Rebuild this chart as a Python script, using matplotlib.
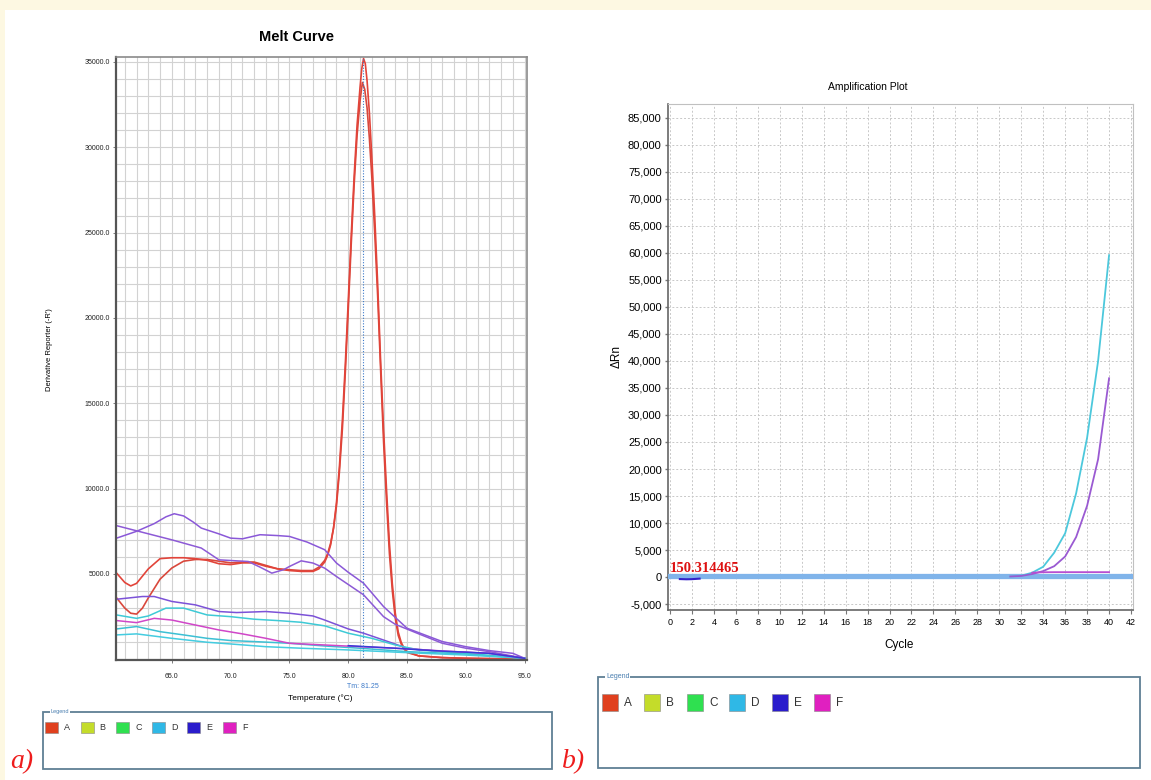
import matplotlib
matplotlib.use("Agg")
import matplotlib.pyplot as plt
import matplotlib.patches as patches
from matplotlib.ticker import FuncFormatter, MultipleLocator

plt.rcParams['font.family'] = ['Liberation Sans', 'DejaVu Sans']

# ---- melt curve data (temperature in degC, derivative reporter -R') ----
red1_t = [60.3, 61.0, 61.5, 62.0, 63.0, 64.0, 65.0, 66.0, 67.0, 68.0, 69.0, 70.0, 71.0, 72.0,
          73.0, 74.0, 75.0, 76.0, 77.0, 77.5, 78.0, 78.25, 78.5, 78.75, 79.0, 79.25, 79.5, 79.75,
          80.0, 80.25, 80.5, 80.75, 81.0, 81.15, 81.3, 81.45, 81.6, 81.8, 82.0, 82.25, 82.5,
          82.75, 83.0, 83.25, 83.5, 83.75, 84.0, 84.25, 84.5, 84.75, 85.0, 86.0, 88.0, 90.0,
          92.0, 95.0]
red1_v = [5050, 4500, 4300, 4450, 5300, 5900, 5950, 5950, 5900, 5800, 5600, 5550, 5650, 5650,
          5450, 5300, 5200, 5150, 5150, 5300, 5700, 6100, 6700, 7700, 9200, 11300, 14000, 17300,
          21000, 24800, 28300, 31300, 33500, 34600, 35200, 34900, 33900, 32000, 29500, 26000, 22000,
          17500, 13500, 10000, 6800, 4400, 2700, 1600, 1000, 650, 450, 200, 100, 60,
          40, 20]
red2_t = [60.3, 61.0, 61.5, 62.0, 62.5, 63.0, 64.0, 65.0, 66.0, 67.0, 68.0, 69.0, 70.0, 71.0,
          72.0, 73.0, 74.0, 75.0, 76.0, 77.0, 77.5, 78.0, 78.25, 78.5, 78.75, 79.0, 79.25, 79.5,
          79.75, 80.0, 80.25, 80.5, 80.75, 81.0, 81.2, 81.4, 81.6, 81.8, 82.0, 82.25, 82.5,
          82.75, 83.0, 83.25, 83.5, 83.75, 84.0, 84.25, 84.5, 84.75, 85.0, 86.0, 88.0, 90.0,
          92.0, 95.0]
red2_v = [3600, 3000, 2700, 2650, 3000, 3600, 4700, 5350, 5750, 5850, 5850, 5750, 5650, 5700,
          5700, 5500, 5300, 5250, 5200, 5200, 5400, 5800, 6200, 6800, 7700, 9000, 11000, 13500,
          16800, 20500, 24300, 27800, 30700, 32700, 33800, 33400, 32300, 30500, 28300, 25000, 21300,
          17000, 12800, 9300, 6200, 4000, 2400, 1400, 900, 600, 400, 200, 100, 60,
          40, 20]

purple1_t = [60.3, 62.0, 63.5, 64.5, 65.2, 66.0, 66.8, 67.5, 69.0, 70.0, 71.0, 72.5, 74.0, 75.0,
             76.5, 78.0, 79.0, 80.0, 81.3, 83.0, 85.0, 86.5, 88.0, 90.0, 92.0, 94.0, 95.0]
purple1_v = [7100, 7500, 7950, 8350, 8530, 8400, 8050, 7690, 7350, 7100, 7060, 7300, 7250, 7200,
             6870, 6420, 5640, 5100, 4460, 3090, 1820, 1430, 1040, 740, 510, 350, 60]
purple2_t = [60.3, 62.0, 65.0, 67.5, 69.0, 71.5, 72.5, 73.5, 74.5, 75.0, 76.0, 77.0, 78.0, 79.0,
             81.3, 83.0, 84.0, 86.0, 88.0, 90.0, 92.0, 95.0]
purple2_v = [7830, 7530, 7000, 6520, 5830, 5730, 5400, 5050, 5250, 5440, 5770, 5640, 5340, 4850,
             3780, 2500, 2050, 1490, 940, 650, 450, 60]
purple3_t = [60.3, 62.5, 63.5, 65.0, 67.0, 69.0, 70.5, 73.0, 75.0, 77.0, 78.0, 80.0, 81.3, 83.0,
             85.0, 88.0, 92.0, 95.0]
purple3_v = [3520, 3680, 3680, 3390, 3190, 2800, 2740, 2800, 2700, 2540, 2300, 1780, 1530, 1130,
             650, 450, 350, 60]

cyan1_t = [60.3, 62.0, 63.0, 64.5, 66.0, 68.0, 70.0, 72.0, 74.0, 76.0, 78.0, 80.0, 82.0, 84.0,
           86.0, 90.0, 95.0]
cyan1_v = [2600, 2400, 2540, 3000, 3000, 2600, 2500, 2350, 2270, 2170, 1960, 1530, 1230, 840,
           550, 350, 60]
cyan2_t = [60.3, 62.0, 64.0, 66.0, 68.0, 70.0, 72.0, 75.0, 78.0, 81.0, 85.0, 90.0, 95.0]
cyan2_v = [1780, 1920, 1620, 1430, 1230, 1100, 1040, 940, 780, 650, 450, 310, 60]
cyan3_t = [60.3, 62.0, 65.0, 68.0, 70.0, 73.0, 76.0, 80.0, 85.0, 90.0, 95.0]
cyan3_v = [1430, 1490, 1230, 1000, 900, 740, 650, 550, 390, 250, 60]

magenta_t = [60.3, 62.0, 63.5, 65.0, 67.0, 69.0, 71.0, 73.0, 75.0, 78.0, 81.0, 84.0, 88.0, 92.0, 95.0]
magenta_v = [2270, 2150, 2400, 2300, 2010, 1720, 1490, 1230, 940, 840, 740, 650, 490, 350, 60]

blue_t = [80.0, 84.0, 86.0, 88.0, 90.0, 92.0, 95.0]
blue_v = [800, 650, 560, 480, 420, 350, 60]

tm_value = 81.25

# ---- amplification data (cycle, delta Rn) ----
amp_cycles = [31, 32, 33, 34, 35, 36, 37, 38, 39, 40]
amp_cyan = [100, 250, 800, 1900, 4500, 8100, 15500, 25800, 40000, 59600]
amp_purple = [100, 200, 550, 1100, 2000, 3800, 7400, 13200, 21800, 36800]
flat_cycles = [33, 34, 35, 36, 37, 38, 39, 40]
flat_vals = [800, 880, 900, 900, 900, 900, 900, 900]
early_cycles = [0.9, 1.5, 2.0, 2.7]
early_vals = [-380, -420, -400, -300]
threshold = 150.314465

legend_names = ['A', 'B', 'C', 'D', 'E', 'F']
legend_colors = ['#e0401e', '#c4dc2a', '#2fe050', '#2fb8e6', '#2a1ccc', '#e020c0']

W, H = 1151, 780
fig = plt.figure(figsize=(W / 100, H / 100), dpi=100, facecolor='#fdf8e2')

# overlay axes in pixel coordinates for frames and free text
ov = fig.add_axes([0, 0, 1, 1], zorder=-1)
ov.set_xlim(0, W)
ov.set_ylim(H, 0)
ov.axis('off')
ov.add_patch(patches.Rectangle((5, 10), W, H, facecolor='white', edgecolor='none'))


def px_axes(x0, y0, x1, y1):
    return fig.add_axes([x0 / W, 1 - y1 / H, (x1 - x0) / W, (y1 - y0) / H])


# ================= a) Melt curve =================
ax1 = px_axes(116, 57, 527, 660)
ax1.plot(red2_t, red2_v, color='#d9483c', lw=1.2)
ax1.plot(red1_t, red1_v, color='#e2443a', lw=1.2)
ax1.plot(purple1_t, purple1_v, color='#8a58d8', lw=1.1)
ax1.plot(purple2_t, purple2_v, color='#8d5ad6', lw=1.1)
ax1.plot(purple3_t, purple3_v, color='#7c52d8', lw=1.1)
ax1.plot(cyan1_t, cyan1_v, color='#3ecad6', lw=1.1)
ax1.plot(cyan2_t, cyan2_v, color='#3cc0d4', lw=1.1)
ax1.plot(cyan3_t, cyan3_v, color='#44cce0', lw=1.1)
ax1.plot(magenta_t, magenta_v, color='#d046c8', lw=1.1)
ax1.plot(blue_t, blue_v, color='#3a3ad8', lw=1.1)
ax1.axvline(tm_value, color='#3a78c8', lw=0.8, ls=(0, (1, 1.5)))

ax1.set_xlim(60.25, 95.2)
ax1.set_ylim(-40, 35290)
ax1.set_xticks([65, 70, 75, 80, 85, 90, 95])
ax1.set_yticks([5000, 10000, 15000, 20000, 25000, 30000, 35000])
ax1.xaxis.set_major_formatter(FuncFormatter(lambda v, p: f'{v:.1f}'))
ax1.yaxis.set_major_formatter(FuncFormatter(lambda v, p: f'{v:.1f}'))
ax1.xaxis.set_minor_locator(MultipleLocator(1))
ax1.yaxis.set_minor_locator(MultipleLocator(1000))
ax1.grid(True, which='both', color='#d2d2d2', lw=0.8)
ax1.set_axisbelow(True)
ax1.tick_params(labelsize=5, length=2.5, width=0.6, color='#666666', pad=2, labelcolor='#222222')
ax1.tick_params(which='minor', length=0)
ax1.tick_params(axis='x', pad=7)
for side in ['top', 'right']:
    ax1.spines[side].set_color('#8a8a8a')
    ax1.spines[side].set_linewidth(1.2)
for side in ['left', 'bottom']:
    ax1.spines[side].set_color('#555555')
    ax1.spines[side].set_linewidth(1.6)

ov.text(297, 37, 'Melt Curve', fontsize=10.5, fontweight='bold', ha='center', va='center')
ov.text(50, 350, "Derivative Reporter (-R')", fontsize=5.5, rotation=90, ha='center', va='center')
ov.text(320, 698, 'Temperature (°C)', fontsize=6, ha='center', va='center')
ov.text(363, 687, 'Tm: 81.25', fontsize=5, color='#3a78c8', ha='center', va='center')

# ================= b) Amplification plot =================
ax2 = px_axes(668, 104, 1133, 610)
ax2.axhline(threshold, color='#80b4ea', lw=3.8, zorder=3)
ax2.plot(amp_cycles, amp_cyan, color='#4cc8dc', lw=1.3, zorder=4)
ax2.plot(amp_cycles, amp_purple, color='#9a5ad2', lw=1.3, zorder=4)
ax2.plot(flat_cycles, flat_vals, color='#b84ed0', lw=1.3, zorder=4)
ax2.plot(early_cycles, early_vals, color='#3422c8', lw=1.5, zorder=4)
ax2.text(0, 300, f'{threshold:.6f}', color='#dd1111', fontsize=10.5, fontweight='bold',
         family='Liberation Serif', ha='left', va='bottom', zorder=5)

ax2.set_xlim(-0.18, 42.18)
ax2.set_ylim(-6110, 87590)
ax2.set_xticks(range(0, 43, 2))
ax2.set_yticks(range(-5000, 85001, 5000))
ax2.yaxis.set_major_formatter(FuncFormatter(lambda v, p: f'{int(v):,}'))
ax2.grid(True, color='#c8c8c8', lw=0.7, ls=(0, (2, 2)))
ax2.set_axisbelow(True)
ax2.tick_params(axis='y', labelsize=8, length=2.5, width=1, color='#777777', pad=2)
ax2.tick_params(axis='x', labelsize=6.5, length=3, width=0.8, color='#777777', pad=3)
for side in ['top', 'right']:
    ax2.spines[side].set_color('#c0c0c0')
for side in ['left', 'bottom']:
    ax2.spines[side].set_color('#666666')
    ax2.spines[side].set_linewidth(1.2)

ov.text(868, 87, 'Amplification Plot', fontsize=7.5, ha='center', va='center')
ov.text(617, 356, 'ΔRn', fontsize=8.5, rotation=90, ha='center', va='center')
ov.text(899, 645, 'Cycle', fontsize=8.5, ha='center', va='center')

# ================= legend boxes =================
def legend_box(x0, y0, x1, y1, sq_x0, sq_y, sq_w, sq_h, step, fs, lab_fs):
    ov.add_patch(patches.Rectangle((x0, y0), x1 - x0, y1 - y0, facecolor='white',
                                   edgecolor='#5f7f94', lw=1.3))
    ov.text(x0 + 8, y0, 'Legend', fontsize=lab_fs, color='#4a7fb0', va='center', ha='left',
            bbox=dict(facecolor='white', edgecolor='none', pad=0.6))
    for i, (name, col) in enumerate(zip(legend_names, legend_colors)):
        sx = sq_x0 + i * step
        ov.add_patch(patches.Rectangle((sx, sq_y), sq_w, sq_h, facecolor=col,
                                       edgecolor='#888888', lw=0.4))
        ov.text(sx + sq_w + 6, sq_y + sq_h / 2, name, fontsize=fs, color='#333333',
                va='center', ha='left')


legend_box(43, 712, 552, 769, 45, 722, 13, 11, 35.6, 6.5, 4)
legend_box(598, 677, 1140, 768, 602, 694, 16, 17, 42.5, 8.5, 5)

ov.text(22, 762, 'a)', fontsize=20, color='#ee1c1c', style='italic', family='Liberation Serif',
        ha='center', va='center')
ov.text(574, 762, 'b)', fontsize=20, color='#ee1c1c', style='italic', family='Liberation Serif',
        ha='center', va='center')

fig.savefig('out.png', dpi=100, facecolor=fig.get_facecolor())
